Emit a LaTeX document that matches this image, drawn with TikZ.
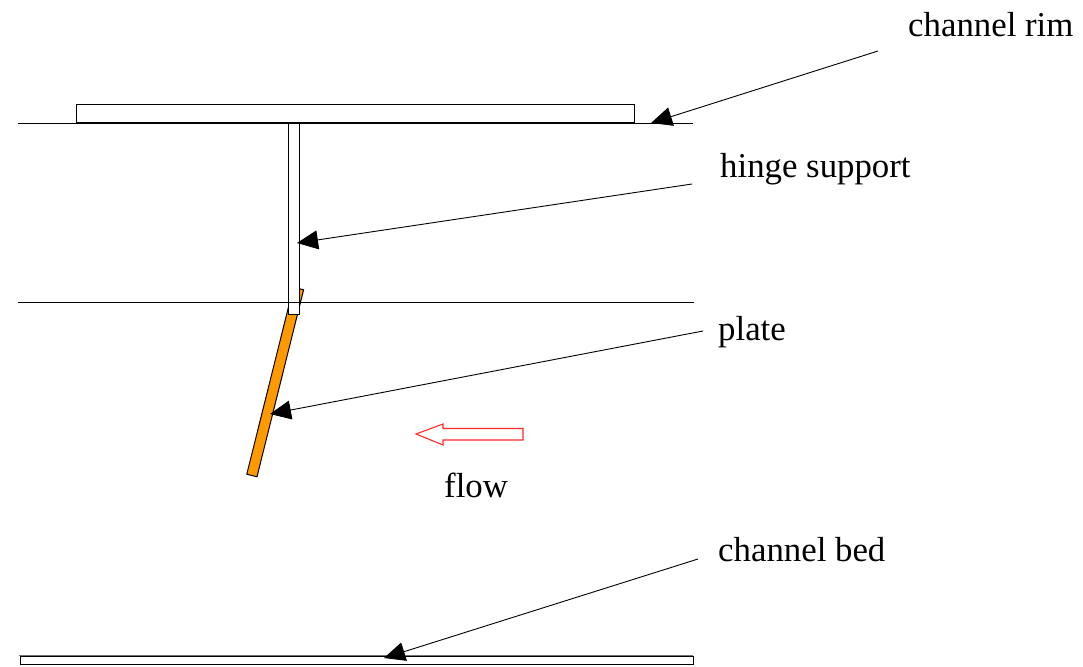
\documentclass[tikz,border=0pt]{standalone}
\usepackage{fontspec}
\setmainfont{Liberation Serif}
\usetikzlibrary{arrows.meta, positioning}
\definecolor{plateOrange}{RGB}{255,153,0}
\definecolor{flowRed}{RGB}{255,40,40}
\tikzset{
  wall/.style={draw=black, fill=white, line width=1pt, inner sep=0pt, outer sep=0pt},
  plateN/.style={wall, fill=plateOrange, minimum width=192.7pt, minimum height=10.5pt, rotate=76},
  levelL/.style={line width=1pt, color=black},
  arr/.style={-{Triangle[length=21pt,width=19pt]}, line width=0.9pt, color=black},
  flowArr/.style={draw=flowRed, line width=1.1pt, line join=miter},
  lab/.style={font=\fontsize{34.8}{40}\selectfont, inner sep=0pt, anchor=base west},
}
\begin{document}
\begin{tikzpicture}[x=1pt,y=-1pt]
\useasboundingbox (0,0) rectangle (1083,666);

%% ── LEVELS ─────────────────────────────────────────────
\coordinate (rimL) at (18,123.5);
\coordinate (rimR) at (693,123.5);
\coordinate (midL) at (18,302);
\coordinate (midR) at (694,302);
\coordinate (bedL) at (19,655.5);
\coordinate (bedR) at (693,655.5);

\draw[levelL] (rimL) -- (rimR);

%% ── PLATE AND SUPPORT ──────────────────────────────────
\node[plateN] (plate) at (275.2,382) {};
\node[wall, minimum width=11pt, minimum height=191pt] (support) at (293.5,218.5) {};
\node[wall, minimum width=558pt, minimum height=18pt] (rim) at (355,113.5) {};
\node[wall, minimum width=673pt, minimum height=8pt] (bed) at (356.5,660.5) {};

\draw[levelL] (midL) -- (midR);
\draw[levelL, line width=0.7pt, color=black!55] (bedL) -- (bedR);

%% ── LABELS ─────────────────────────────────────────────
\node[lab] (Lrim) at (908,37) {channel rim};
\node[lab] (Lhinge) at (720,177) {hinge support};
\node[lab] (Lplate) at (718,340) {plate};
\node[lab] (Lflow) at (444,497) {flow};
\node[lab] (Lbed) at (718,561) {channel bed};

%% ── ARROWS ─────────────────────────────────────────────
\coordinate (rimA) at (878,51);
\coordinate (rimB) at (651,123);
\coordinate (hingeA) at (692,184);
\coordinate (hingeB) at (297,243);
\coordinate (plateA) at (703,331);
\coordinate (plateB) at (270,414);
\coordinate (bedA) at (698,559);
\coordinate (bedB) at (384,658);

\draw[arr] (rimA) -- (rimB);
\draw[arr] (hingeA) -- (hingeB);
\draw[arr] (plateA) -- (plateB);
\draw[arr] (bedA) -- (bedB);

%% ── FLOW ───────────────────────────────────────────────
\draw[flowArr] (416,434) -- (443,424) -- (443,428.5) -- (523,428.5)
  -- (523,440) -- (443,440) -- (443,445) -- cycle;

\end{tikzpicture}
\end{document}
